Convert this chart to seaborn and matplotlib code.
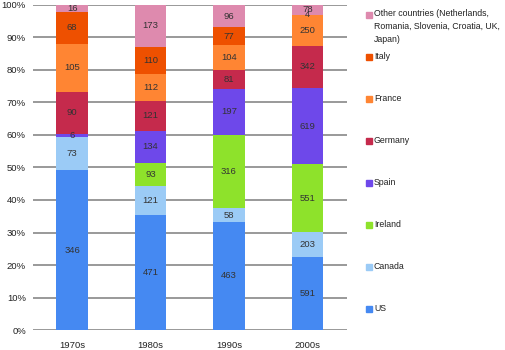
import numpy as np
import pandas as pd
import matplotlib
matplotlib.use("Agg")
import matplotlib.pyplot as plt
import seaborn as sns

decades = ["1970s", "1980s", "1990s", "2000s"]
countries = ["US", "Canada", "Ireland", "Spain", "Germany", "France", "Italy",
             "Other countries (Netherlands,\nRomania, Slovenia, Croatia, UK,\nJapan)"]
us = [346, 471, 463, 591]
canada = [73, 121, 58, 203]
ireland = [0, 93, 316, 551]
spain = [6, 134, 197, 619]
germany = [90, 121, 81, 342]
france = [105, 112, 104, 250]
italy = [68, 110, 77, 4]
other = [16, 173, 96, 78]
colors = ["#4589F2", "#9BCBF6", "#8EE22B", "#6E48EA", "#C52A4C", "#FF8533", "#EE5000", "#DE8AAE"]

vals = np.array([us, canada, ireland, spain, germany, france, italy, other], dtype=float)
pct = vals / vals.sum(axis=0) * 100
cum = pct.cumsum(axis=0)

sns.set_style("white")
plt.rcParams["font.family"] = ["Liberation Sans", "DejaVu Sans"]

fig = plt.figure(figsize=(5.06, 3.5), dpi=100)
ax = fig.add_axes([0.065, 0.057, 0.62, 0.929])

# draw from the top of the stack down so each layer covers the one above
for i in range(len(countries) - 1, -1, -1):
    df = pd.DataFrame({"decade": decades, "cum": cum[i]})
    sns.barplot(data=df, x="decade", y="cum", color=colors[i], saturation=1,
                width=0.4, ax=ax, zorder=2, linewidth=0, edgecolor="none")

# segment labels
for i in range(len(countries)):
    for j in range(len(decades)):
        if vals[i, j] == 0:
            continue
        mid = cum[i, j] - pct[i, j] / 2
        ax.text(j, mid, f"{int(vals[i, j])}", ha="center", va="center",
                fontsize=6.8, color="#333333", zorder=3)

ax.set_ylim(0, 100)
ax.set_xlim(-0.5, 3.5)
ax.set_yticks(range(0, 101, 10))
ax.set_yticklabels([f"{t}%" for t in range(0, 101, 10)], fontsize=6.8, color="#222222")
ax.tick_params(axis="x", labelsize=6.8, colors="#222222", length=0, pad=8)
ax.tick_params(axis="y", length=0, pad=5)
ax.yaxis.grid(True, color="#999999", linewidth=1.4, zorder=0)
ax.set_axisbelow(True)
ax.set_xlabel("")
ax.set_ylabel("")
for s in ax.spines.values():
    s.set_visible(False)

# legend, spread out to the chart height
for i in range(len(countries)):
    k = len(countries) - 1 - i
    y = 1 - (14 + 42.1 * k) / 350
    fig.patches.append(plt.Rectangle((366 / 506, y - 3.5 / 350), 6 / 506, 6 / 350,
                                     transform=fig.transFigure, color=colors[i]))
    if i == 7:
        fig.text(374 / 506, y + 5 / 350, countries[i], fontsize=6.3, va="top",
                 color="#222222", linespacing=1.6)
    else:
        fig.text(374 / 506, y, countries[i], fontsize=6.3, va="center", color="#222222")

fig.savefig("out.png", dpi=100)
